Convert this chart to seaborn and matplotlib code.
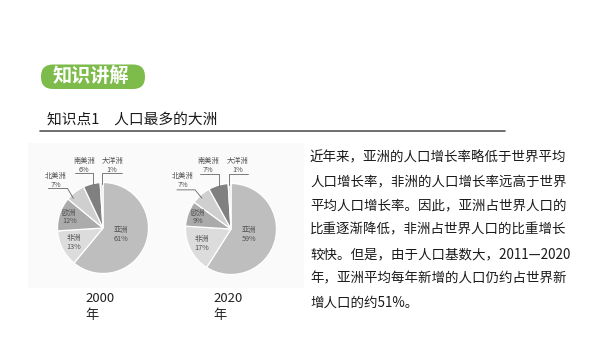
import numpy as np
import matplotlib
matplotlib.use("Agg")
import matplotlib.pyplot as plt
from matplotlib.patches import FancyBboxPatch, Rectangle
import seaborn as sns

sns.set_theme(style="white")
plt.rcParams['font.family'] = ['Noto Sans CJK SC', 'DejaVu Sans']

# ---- data ----
continents = ["亚洲", "非洲", "欧洲", "北美洲", "南美洲", "大洋洲"]
share_2000 = [61, 13, 12, 7, 6, 1]
share_2020 = [59, 17, 9, 7, 7, 1]
years = ["2000\n年", "2020\n年"]
title_tag = "知识讲解"
section_title = "知识点1　人口最多的大洲"
body_lines = [
    "近年来，亚洲的人口增长率略低于世界平均",
    "人口增长率，非洲的人口增长率远高于世界",
    "平均人口增长率。因此，亚洲占世界人口的",
    "比重逐渐降低，非洲占世界人口的比重增长",
    "较快。但是，由于人口基数大，2011—2020",
    "年，亚洲平均每年新增的人口仍约占世界新",
    "增人口的约51%。",
]

slice_colors = ["#bebebe", "#dcdcdc", "#ababab", "#cfcfcf", "#808080", "#e6e6e6"]

W, H = 600, 338
fig = plt.figure(figsize=(6, 3.38), dpi=100)
fig.patch.set_facecolor("white")

# background axis for decorations
bg = fig.add_axes([0, 0, 1, 1])
bg.set_xlim(0, W)
bg.set_ylim(H, 0)
bg.axis("off")

# faint paper behind pies
bg.add_patch(Rectangle((28, 143), 276, 145, facecolor="#fafafa", edgecolor="none"))

# green tag
bg.add_patch(FancyBboxPatch((41, 64.5), 104, 24.5, boxstyle="round,pad=0,rounding_size=12",
                            facecolor="#7dbb4b", edgecolor="none"))
bg.text(91, 77, title_tag, color="white", fontsize=13.8, fontweight="bold",
        ha="center", va="center")

# section title + underline
bg.text(47, 120, section_title, color="#1a1a1a", fontsize=10.6, ha="left", va="center")
bg.plot([40, 505], [131, 131], color="#555555", lw=1.2)

# body text
y0, dy = 157, 24.3
for i, line in enumerate(body_lines):
    bg.text(310, y0 + i * dy, line, color="#1a1a1a", fontsize=9.7, ha="left", va="center")

# pies: (center x, center y, values, year label, year x, outside label layout)
R = 45.5
lim = 1.7
pie_specs = [
    (103, 228, share_2000, years[0], 85,
     {3: dict(t=(-1.04, 1.04), line=[(-1.2, 0.87), (-0.78, 0.87), (-0.65, 0.65)]),
      4: dict(t=(-0.41, 1.37), line=[(-0.61, 1.2), (-0.22, 1.2), (-0.22, 0.96)]),
      5: dict(t=(0.2, 1.37), line=[(0.41, 1.2), (-0.02, 1.2), (-0.02, 0.96)])}),
    (231, 229, share_2020, years[1], 213,
     {3: dict(t=(-1.06, 1.06), line=[(-1.19, 0.86), (-0.79, 0.86), (-0.64, 0.68)]),
      4: dict(t=(-0.5, 1.4), line=[(-0.68, 1.2), (-0.26, 1.2), (-0.26, 0.95)]),
      5: dict(t=(0.15, 1.4), line=[(0.37, 1.2), (-0.04, 1.2), (-0.04, 0.96)])}),
]
inside_r = {0: 0.42, 1: 0.72, 2: 0.78}

for cx, cy, vals, ylabel, yx, outside in pie_specs:
    size = 2 * R * lim
    l, b = (cx - size / 2) / W, 1 - (cy + size / 2) / H
    ax = fig.add_axes([l, b, size / W, size / H])
    wedges, _ = ax.pie(vals, colors=slice_colors, startangle=90, counterclock=False,
                       radius=1, wedgeprops=dict(edgecolor="white", linewidth=0.9))
    ax.set_xlim(-lim, lim)
    ax.set_ylim(-lim, lim)
    ax.set_aspect("equal")
    ax.axis("off")
    for i, w in enumerate(wedges):
        mid = np.deg2rad((w.theta1 + w.theta2) / 2)
        lab = f"{continents[i]}\n{vals[i]}%"
        if i in inside_r:
            r = inside_r[i]
            ax.text(r * np.cos(mid), r * np.sin(mid), lab, fontsize=5.2, color="#505050",
                    ha="center", va="center", linespacing=1.15)
        else:
            spec = outside[i]
            tx, ty = spec["t"]
            ax.text(tx, ty, lab, fontsize=5.2, color="#505050", ha="center", va="center",
                    linespacing=1.15)
            xs, ys = zip(*spec["line"])
            ax.plot(xs, ys, color="#666666", lw=0.6)
    bg.text(yx, 307, ylabel, color="#222222", fontsize=9.5, ha="left", va="center",
            linespacing=1.3)

fig.savefig("out.png", dpi=100)
